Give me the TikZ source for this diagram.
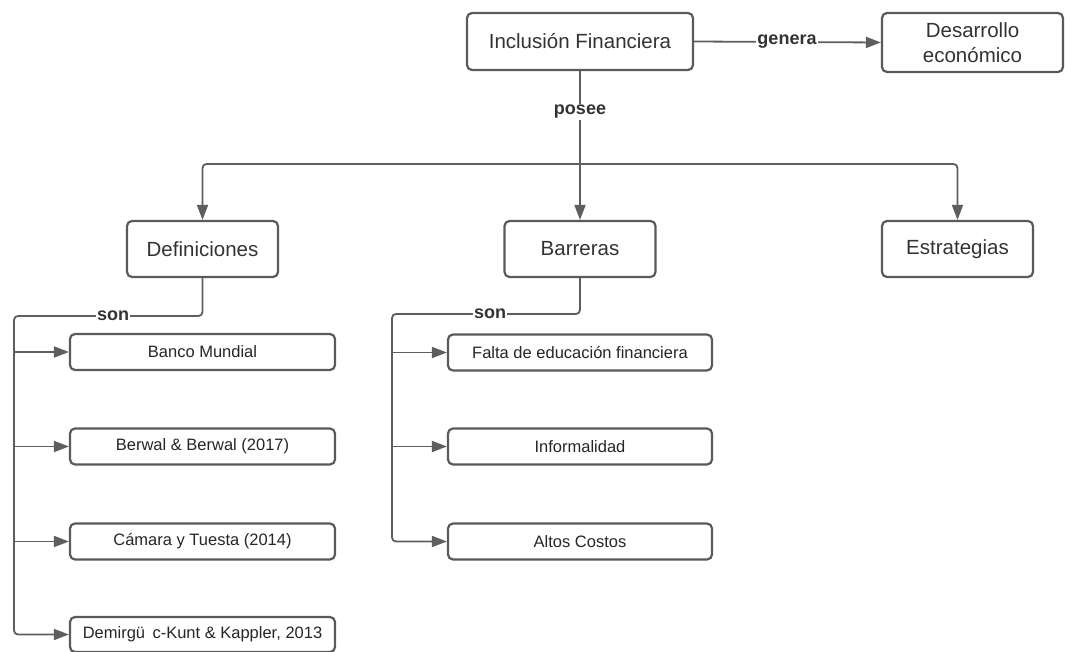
\documentclass[tikz,border=0pt]{standalone}
\usepackage{fontspec}
\setmainfont{Liberation Sans}
\usetikzlibrary{arrows.meta}
\definecolor{linec}{HTML}{5E5E5E}
\definecolor{boxc}{HTML}{5A5A5A}
\definecolor{txtc}{HTML}{333333}
\begin{document}
\begin{tikzpicture}[x=1pt,y=-1pt,
  mainbox/.style={draw=boxc, line width=2.2pt, rounded corners=5pt, fill=white,
    font=\fontsize{20.5}{25}\selectfont, text=txtc, inner sep=0pt, align=center},
  childbox/.style={draw=boxc, line width=2.2pt, rounded corners=5pt, fill=white,
    font=\fontsize{16.5}{20}\selectfont, text=black!85, inner sep=0pt,
    minimum width=265pt, minimum height=36pt},
  lbl/.style={fill=white, font=\bfseries\fontsize{18}{20}\selectfont, text=txtc, inner sep=1pt},
  conn/.style={draw=linec, line width=1.8pt, rounded corners=4pt},
  arr/.style={-{Triangle[length=15pt,width=11pt]}}]
\useasboundingbox (0,0) rectangle (1065,652);
\fill[white] (0,0) rectangle (1065,652);

\node[mainbox, minimum width=226pt, minimum height=57pt] (inc) at (580,41.5) {Inclusión Financiera};
\node[mainbox, minimum width=181pt, minimum height=59pt] (des) at (972.5,42.5) {Desarrollo\\económico};
\node[mainbox, minimum width=151pt, minimum height=56pt] (def) at (202.5,249) {Definiciones};
\node[mainbox, minimum width=151pt, minimum height=56pt] (bar) at (580,249) {Barreras};
\node[mainbox, minimum width=151pt, minimum height=56pt] (est) at (957.5,249) {Estrategias};

\node[childbox] (bm) at (202.5,352) {Banco Mundial};
\node[childbox] (bw) at (202.5,446.5) {Berwal \& Berwal (2017)};
\node[childbox] (cy) at (202.5,541.5) {Cámara y Tuesta (2014)};
\node[childbox, minimum height=35pt] (dk) at (202.5,634.5) {Demirgü\hspace{0.45em}c-Kunt \& Kappler, 2013};

\node[childbox, minimum width=264pt] (fe) at (580,352.5) {Falta de educación financiera};
\node[childbox, minimum width=264pt] (inf) at (580,446.5) {Informalidad};
\node[childbox, minimum width=264pt] (ac) at (580,541.5) {Altos Costos};

\coordinate (jn) at (580,164);
\coordinate (dj) at (14,316);
\coordinate (bj) at (392,314);

\draw[conn,arr] (inc.east) -- (des.west);
\node[lbl] (lgen) at (787,42) {genera};
\draw[conn,arr] (inc.south) -- (bar.north);
\node[lbl] (lpos) at (580,112) {posee};
\draw[conn,arr] (jn) -| (def.north);
\draw[conn,arr] (jn) -| (est.north);

\draw[conn,arr] (def.south) |- (dj) |- (dk.west);
\node[lbl] (lson1) at (113,316) {son};
\draw[conn,arr] (bm.west -| dj) -- (bm.west);
\draw[conn,arr] (bw.west -| dj) -- (bw.west);
\draw[conn,arr] (cy.west -| dj) -- (cy.west);

\draw[conn,arr] (bar.south) |- (bj) |- (ac.west);
\node[lbl] (lson2) at (490,314) {son};
\draw[conn,arr] (fe.west -| bj) -- (fe.west);
\draw[conn,arr] (inf.west -| bj) -- (inf.west);
\end{tikzpicture}
\end{document}
